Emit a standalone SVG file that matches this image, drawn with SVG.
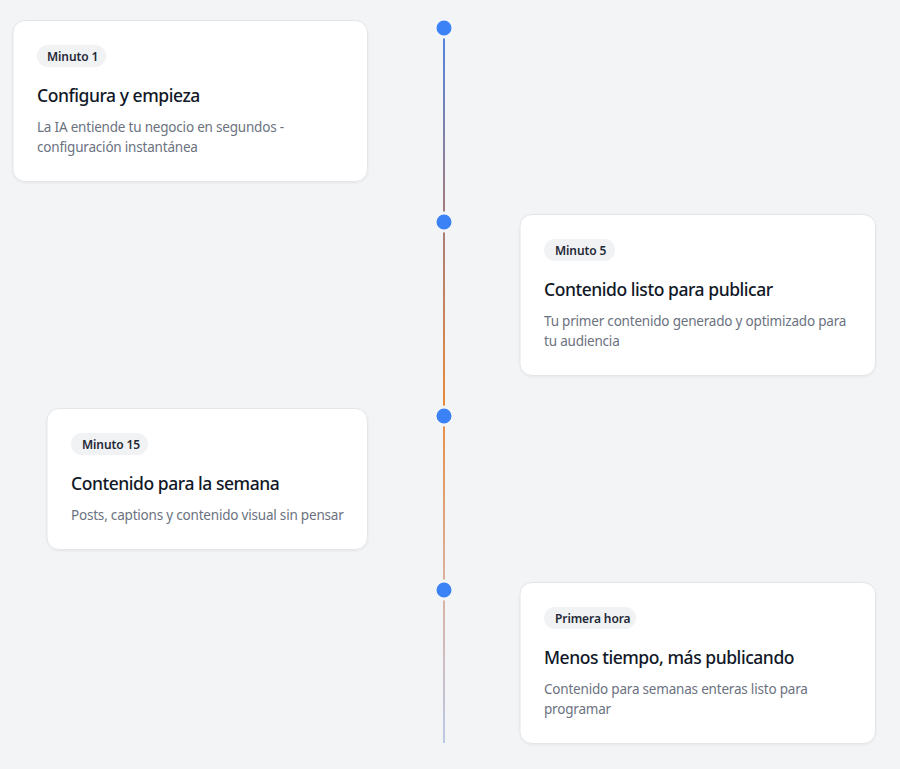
<svg xmlns="http://www.w3.org/2000/svg" width="900" height="769" viewBox="0 0 900 769">
<defs>
<linearGradient id="lg" x1="0" y1="28" x2="0" y2="743" gradientUnits="userSpaceOnUse">
<stop offset="0" stop-color="#4f86e6"/>
<stop offset="0.25" stop-color="#a27c80"/>
<stop offset="0.52" stop-color="#e88a3c"/>
<stop offset="0.78" stop-color="#dcb2a0"/>
<stop offset="1" stop-color="#bcc9e6"/>
</linearGradient>
<filter id="sh" x="-5%" y="-5%" width="110%" height="115%">
<feDropShadow dx="0" dy="1" stdDeviation="1.2" flood-color="#000" flood-opacity="0.06"/>
</filter>
</defs>
<style>
.card{fill:#fff;stroke:#e3e5e9;stroke-width:1;filter:url(#sh)}
.badge{fill:#f1f2f4}
.bt{font-family:"Noto Sans",sans-serif;font-size:12px;font-weight:600;fill:#1f2937;letter-spacing:-0.1px}
.tt{font-family:"Noto Sans",sans-serif;font-size:17.5px;font-weight:500;fill:#111827;letter-spacing:-0.45px}
.dt{font-family:"Noto Sans",sans-serif;font-size:13.5px;fill:#6b7280;letter-spacing:-0.2px}
.dot{fill:#3b82f6;stroke:#f3f4f6;stroke-width:3}
</style>
<rect width="900" height="769" fill="#f3f4f6"/>
<g id="connectors">
<line x1="444" y1="28" x2="444" y2="743" stroke="url(#lg)" stroke-width="2"/>
</g>
<g id="dots">
<circle class="dot" cx="444" cy="28" r="9"/>
<circle class="dot" cx="444" cy="222" r="9"/>
<circle class="dot" cx="444" cy="416" r="9"/>
<circle class="dot" cx="444" cy="590" r="9"/>
</g>
<g id="step1">
<rect class="card" x="13" y="20.5" width="354.5" height="161" rx="12"/>
<rect class="badge" x="37" y="45" width="69" height="22" rx="11"/>
<text class="bt" x="47" y="61">Minuto 1</text>
<text class="tt" x="37" y="102">Configura y empieza</text>
<text class="dt" x="37" y="132">La IA entiende tu negocio en segundos -</text>
<text class="dt" x="37" y="152">configuración instantánea</text>
</g>
<g id="step2">
<rect class="card" x="520" y="214.5" width="355.5" height="161" rx="12"/>
<rect class="badge" x="544" y="239" width="71" height="22" rx="11"/>
<text class="bt" x="555" y="255">Minuto 5</text>
<text class="tt" x="544" y="296">Contenido listo para publicar</text>
<text class="dt" x="544" y="326">Tu primer contenido generado y optimizado para</text>
<text class="dt" x="544" y="346">tu audiencia</text>
</g>
<g id="step3">
<rect class="card" x="47" y="408.5" width="320.5" height="141" rx="12"/>
<rect class="badge" x="71" y="433" width="77" height="22" rx="11"/>
<text class="bt" x="82" y="449">Minuto 15</text>
<text class="tt" x="71" y="490">Contenido para la semana</text>
<text class="dt" x="71" y="520">Posts, captions y contenido visual sin pensar</text>
</g>
<g id="step4">
<rect class="card" x="520" y="582.5" width="355.5" height="161" rx="12"/>
<rect class="badge" x="544" y="607" width="92" height="22" rx="11"/>
<text class="bt" x="555" y="623">Primera hora</text>
<text class="tt" x="544" y="664">Menos tiempo, más publicando</text>
<text class="dt" x="544" y="694">Contenido para semanas enteras listo para</text>
<text class="dt" x="544" y="714">programar</text>
</g>
</svg>
